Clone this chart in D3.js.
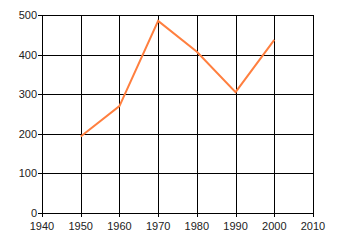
<!DOCTYPE html>
<html>
<head>
<meta charset="utf-8">
<script src="https://cdn.jsdelivr.net/npm/d3@7"></script>
<style>
  body { margin: 0; background: #fff; }
  text { font-family: "Liberation Sans", Arial, sans-serif; font-size: 11px; fill: #222; }
</style>
</head>
<body>
<svg width="340" height="245"></svg>
<script>
const years = [1950, 1960, 1970, 1980, 1990, 2000];
const values = [193, 270, 485, 407, 305, 437];
const xTicks = [1940, 1950, 1960, 1970, 1980, 1990, 2000, 2010];
const yTicks = [0, 100, 200, 300, 400, 500];

const svg = d3.select("svg");
const plotLeft = 42, plotRight = 313, plotTop = 15, plotBottom = 213;

const x = d3.scaleLinear().domain([1940, 2010]).range([plotLeft, plotRight]);
const y = d3.scaleLinear().domain([0, 500]).range([plotBottom, plotTop]);

// grid
const g = svg.append("g").attr("shape-rendering", "crispEdges");
g.selectAll(".h").data(yTicks).enter().append("line")
  .attr("x1", plotLeft - 4).attr("x2", plotRight)
  .attr("y1", d => Math.round(y(d)) + 0.5).attr("y2", d => Math.round(y(d)) + 0.5)
  .attr("stroke", "#000");
g.selectAll(".v").data(xTicks).enter().append("line")
  .attr("y1", plotTop).attr("y2", plotBottom + 4)
  .attr("x1", d => Math.round(x(d)) + 0.5).attr("x2", d => Math.round(x(d)) + 0.5)
  .attr("stroke", "#000");

svg.selectAll(".yl").data(yTicks).enter().append("text")
  .attr("x", plotLeft - 5).attr("y", d => y(d) + 4)
  .attr("text-anchor", "end").text(d => d);
svg.selectAll(".xl").data(xTicks).enter().append("text")
  .attr("x", d => x(d)).attr("y", plotBottom + 17)
  .attr("text-anchor", "middle").text(d => d);

const line = d3.line().x((d, i) => x(years[i])).y(d => y(d));
svg.append("path").datum(values)
  .attr("d", line)
  .attr("fill", "none")
  .attr("stroke", "#ff7f3f")
  .attr("stroke-width", 2);
</script>
</body>
</html>
